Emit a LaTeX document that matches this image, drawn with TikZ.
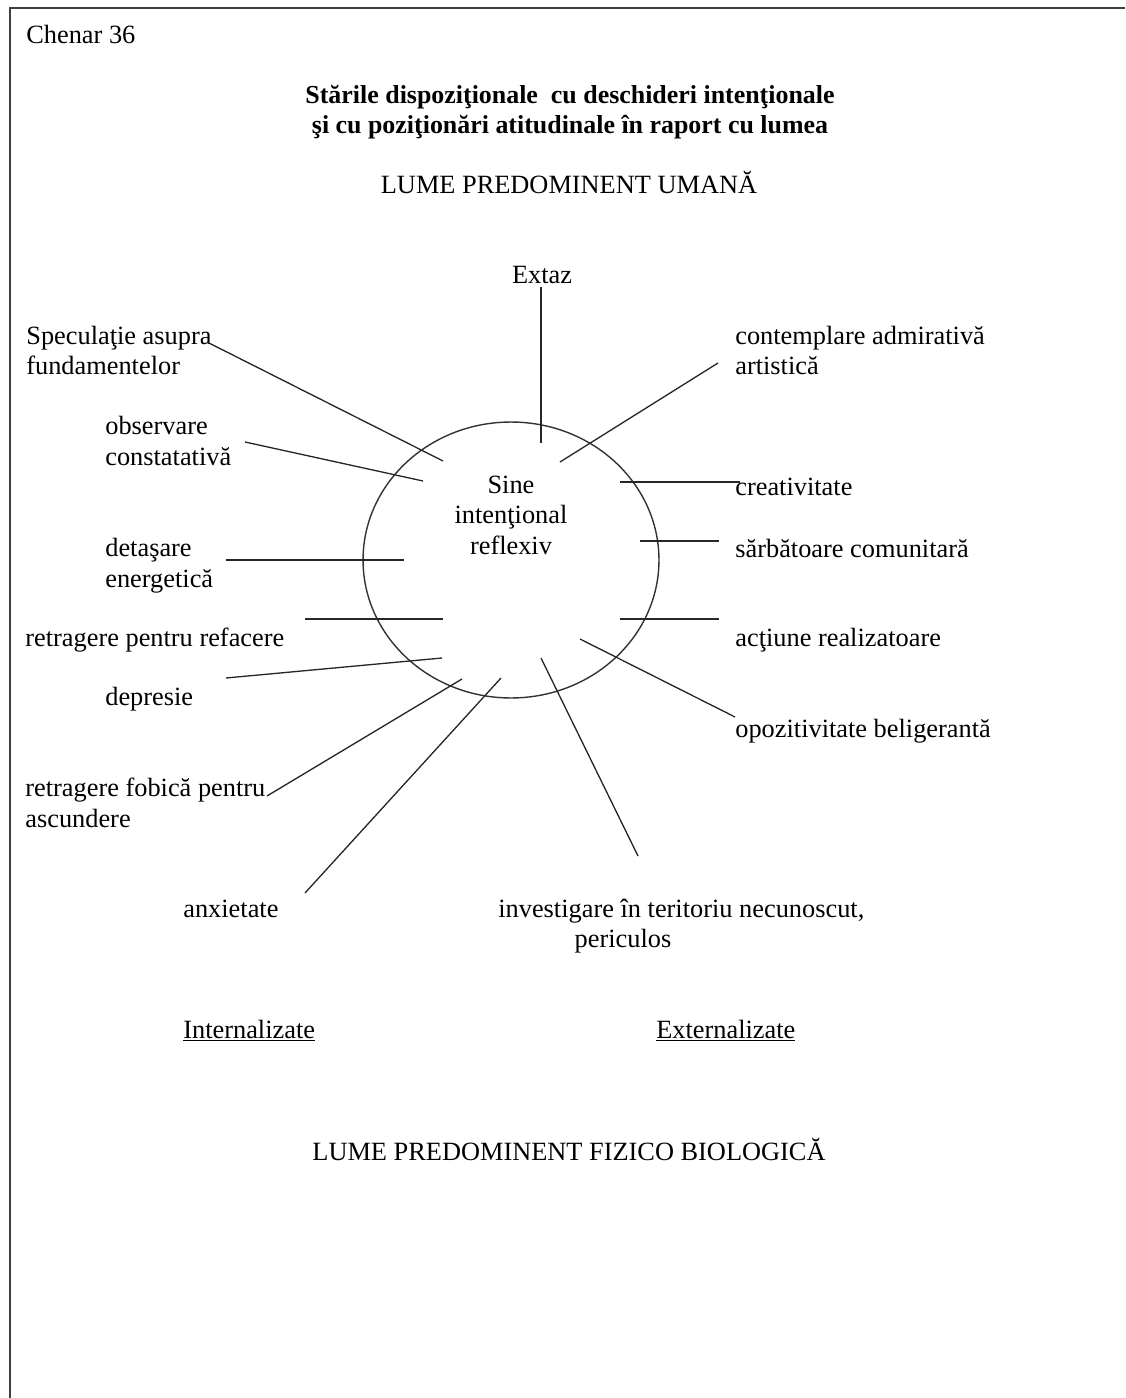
\documentclass[tikz,border=0pt]{standalone}
\usepackage{fontspec}
\setmainfont{Liberation Serif}
\usetikzlibrary{shapes.geometric}

\begin{document}
\begin{tikzpicture}[x=0.02cm,y=-0.02cm,
	font=\fontsize{15pt}{17.1pt}\selectfont,
	every node/.style={inner sep=0pt},
	lbl/.style={anchor=base west,align=left},
	ray/.style={line width=0.75pt,black!85},
	head/.style={anchor=base,font=\fontsize{14.75pt}{17.1pt}\selectfont\bfseries},
]

\useasboundingbox (0,0) rectangle (1125,1398);

%Frame
\draw[line width=1.2pt,black!75] (1125,8) -- (10,8) -- (10,1398);
\node [lbl]  (chenar)at (26,44) {Chenar 36};

%Title
\node [head]  (title)at (570,104) {Stările dispoziţionale\ \ cu deschideri intenţionale};
\node [head]  (subtitle)at (570,134) {şi cu poziţionări atitudinale în raport cu lumea};
\node [anchor=base]  (umana)at (569,194) {LUME PREDOMINENT UMANĂ};

%Self
\node [draw,ellipse,line width=0.8pt,black!80,
	minimum width=5.92cm,
	minimum height=5.52cm,
]  (self)at (511,560) {};
% base of a multi-line node = last line
\node [anchor=base,align=center]  (selftext)at (511,554) {Sine\\intenţional\\reflexiv};

%Labels left
\node [lbl]  (spec)at (26,375) {Speculaţie asupra\\fundamentelor};
\node [lbl]  (obs)at (105,465) {observare\\constatativă};
\node [lbl]  (det)at (105,587) {detaşare\\energetică};
\node [lbl]  (retr)at (25,646) {retragere pentru refacere};
\node [lbl]  (depr)at (105,705) {depresie};
\node [lbl]  (fob)at (25,827) {retragere fobică pentru\\ascundere};
\node [lbl]  (anx)at (183,917) {anxietate};

%Labels right
\node [anchor=base]  (extaz)at (542,284) {Extaz};
\node [lbl]  (cont)at (735,375) {contemplare admirativă\\artistică};
\node [lbl]  (crea)at (735,495) {creativitate};
\node [lbl]  (sarb)at (735,557) {sărbătoare comunitară};
\node [lbl]  (act)at (735,646) {acţiune realizatoare};
\node [lbl]  (opoz)at (735,737) {opozitivitate beligerantă};
\node [lbl]  (inv)at (498,917) {investigare în teritoriu necunoscut,};
\node [anchor=base]  (per)at (623,947) {periculos};

%Bottom
\node [lbl]  (intern)at (183,1038) {\underline{Internalizate}};
\node [lbl]  (extern)at (656,1038) {\underline{Externalizate}};
\node [anchor=base]  (fizic)at (569,1160) {LUME PREDOMINENT FIZICO BIOLOGICĂ};

%Rays
\coordinate (extout) at (541,287);
\coordinate (extin) at (541,443);
\draw[ray] (extout) -- (extin);

\coordinate (specout) at (207,342);
\coordinate (specin) at (443,461);
\draw[ray] (specout) -- (specin);

\coordinate (obsout) at (245,442);
\coordinate (obsin) at (423,481);
\draw[ray] (obsout) -- (obsin);

\coordinate (detout) at (226,560);
\coordinate (detin) at (404,560);
\draw[ray] (detout) -- (detin);

\coordinate (retrout) at (305,619);
\coordinate (retrin) at (443,619);
\draw[ray] (retrout) -- (retrin);

\coordinate (deprout) at (226,678);
\coordinate (deprin) at (442,658);
\draw[ray] (deprout) -- (deprin);

\coordinate (fobout) at (267,796);
\coordinate (fobin) at (462,679);
\draw[ray] (fobout) -- (fobin);

\coordinate (anxout) at (305,893);
\coordinate (anxin) at (501,678);
\draw[ray] (anxout) -- (anxin);

\coordinate (invout) at (638,856);
\coordinate (invin) at (541,658);
\draw[ray] (invout) -- (invin);

\coordinate (opozout) at (735,717);
\coordinate (opozin) at (580,639);
\draw[ray] (opozout) -- (opozin);

\coordinate (actin) at (620,619);
\coordinate (actout) at (719,619);
\draw[ray] (actin) -- (actout);

\coordinate (sarbin) at (640,541);
\coordinate (sarbout) at (719,541);
\draw[ray] (sarbin) -- (sarbout);

\coordinate (creain) at (620,482);
\coordinate (creaout) at (740,482);
\draw[ray] (creain) -- (creaout);

\coordinate (contin) at (560,462);
\coordinate (contout) at (718,363);
\draw[ray] (contin) -- (contout);

\end{tikzpicture}
\end{document}
